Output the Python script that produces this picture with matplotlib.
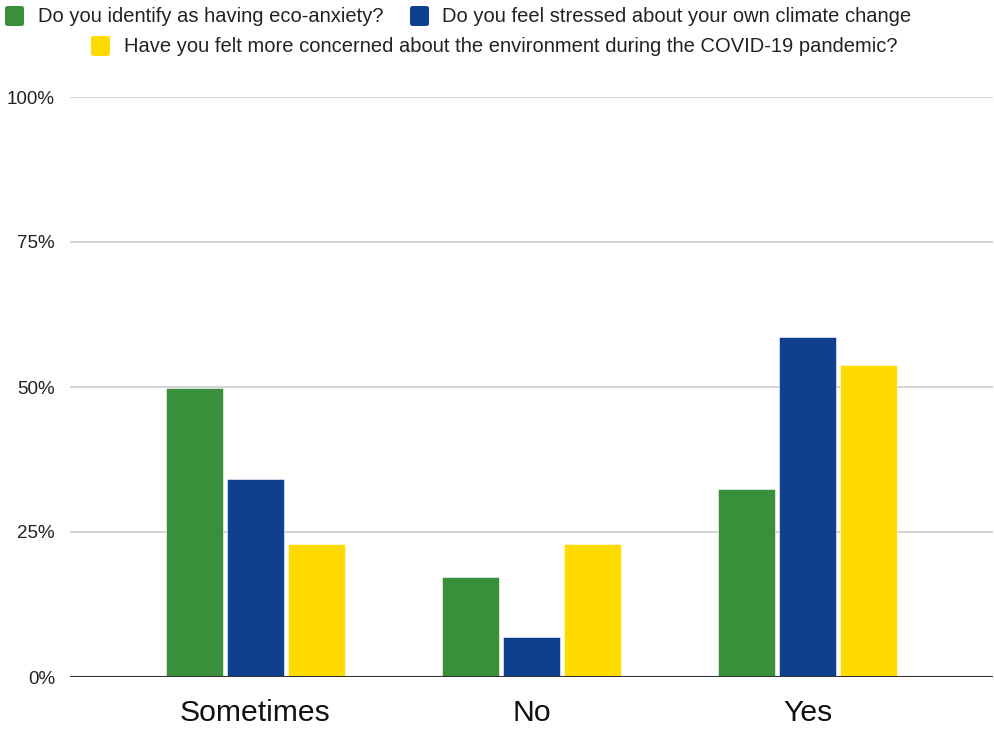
import matplotlib.pyplot as plt
import numpy as np
from matplotlib.patches import FancyBboxPatch
from matplotlib.ticker import FuncFormatter

plt.rcParams["font.family"] = ["Liberation Sans", "DejaVu Sans"]

categories = ["Sometimes", "No", "Yes"]
series_names = [
    "Do you identify as having eco-anxiety?",
    "Do you feel stressed about your own climate change",
    "Have you felt more concerned about the environment during the COVID-19 pandemic?",
]
eco_anxiety = [49.8, 17.2, 32.4]
stressed = [34.2, 6.9, 58.6]
covid_concern = [22.9, 22.9, 53.8]
colors = ["#3a8f3a", "#0f3f8f", "#ffdb00"]

series = [eco_anxiety, stressed, covid_concern]

fig = plt.figure(figsize=(9.94, 7.3), dpi=100)
ax = fig.add_axes([70 / 994, 53 / 730, 923 / 994, 580 / 730])

x = np.arange(len(categories))
step = 0.221
width = 0.206
for i, (vals, col) in enumerate(zip(series, colors)):
    ax.bar(x + (i - 1) * step, np.array(vals) / 100, width=width, color=col,
           edgecolor="white", linewidth=0.4, zorder=3)

ax.set_xlim(-0.67, 2.67)
ax.set_ylim(0, 1)
ax.set_yticks([0, 0.25, 0.5, 0.75, 1.0])
ax.yaxis.set_major_formatter(FuncFormatter(lambda v, _: f"{v * 100:.0f}%"))
ax.grid(axis="y", color="#cccccc", linewidth=1.2, zorder=0)
ax.axhline(0, color="#333333", linewidth=1.5, zorder=4)
for s in ax.spines.values():
    s.set_visible(False)
ax.tick_params(axis="y", length=0, labelsize=13.5, pad=10.8, labelcolor="#222222")
ax.tick_params(axis="x", length=0, labelsize=21.7, pad=16, labelcolor="#111111")
ax.set_xticks(x)
ax.set_xticklabels(categories)

# legend drawn in figure pixels: two items on the first row, one on the second
W, H = 994, 730
legend_items = [
    (5, 16, 38),
    (410, 16, 442),
    (91, 46, 124),
]
for (sx, cy, tx), name, col in zip(legend_items, series_names, colors):
    box = FancyBboxPatch((sx / W, (H - cy - 10) / H), 19 / W, 20 / H,
                         boxstyle="round,pad=0,rounding_size=0.003",
                         transform=fig.transFigure, facecolor=col,
                         edgecolor="none")
    fig.patches.append(box)
    fig.text(tx / W, (H - cy) / H, name, fontsize=14.5, color="#222222",
             va="center", ha="left")

fig.savefig("out.png", dpi=100)
